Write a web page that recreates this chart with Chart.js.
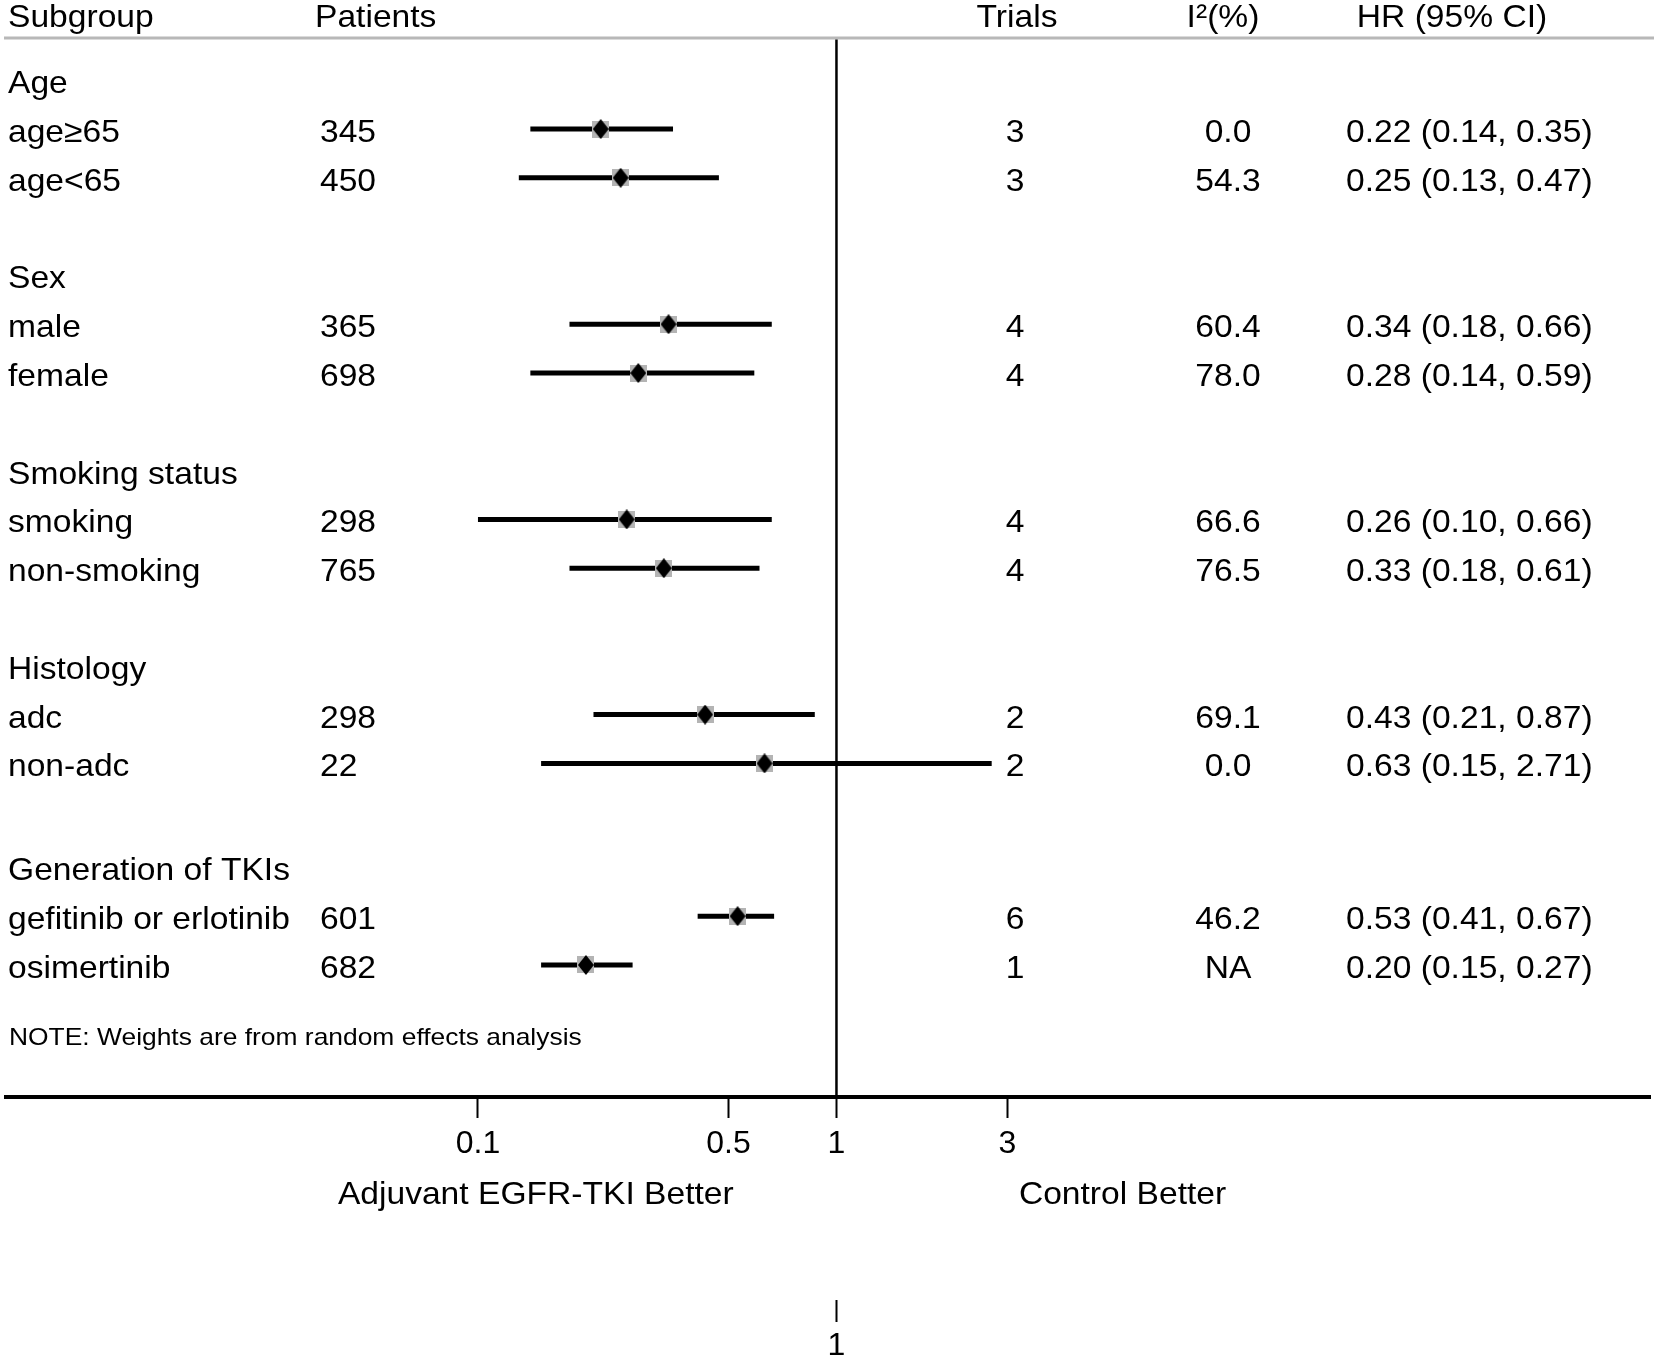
<!DOCTYPE html>
<html>
<head>
<meta charset="utf-8">
<script src="https://cdn.jsdelivr.net/npm/chart.js@4.4.1/dist/chart.umd.min.js"></script>
<style>
html,body{margin:0;padding:0;background:#fff;}
#wrap{width:1654px;height:1361px;}
</style>
</head>
<body>
<div id="wrap"><canvas id="c" width="1654" height="1361"></canvas></div>
<script>
// ---- data ----
const groupLabels = ['Age', 'Sex', 'Smoking status', 'Histology', 'Generation of TKIs'];
const groupRows   = [0, 4, 8, 12, 16.13];
const subgroups   = ['age≥65', 'age<65', 'male', 'female', 'smoking', 'non-smoking', 'adc', 'non-adc', 'gefitinib or erlotinib', 'osimertinib'];
const rows        = [1, 2, 5, 6, 9, 10, 13, 14, 17.13, 18.13];
const patients    = [345, 450, 365, 698, 298, 765, 298, 22, 601, 682];
const trials      = [3, 3, 4, 4, 4, 4, 2, 2, 6, 1];
const i2          = ['0.0', '54.3', '60.4', '78.0', '66.6', '76.5', '69.1', '0.0', '46.2', 'NA'];
const hr          = [0.22, 0.25, 0.34, 0.28, 0.26, 0.33, 0.43, 0.63, 0.53, 0.20];
const ciLow       = [0.14, 0.13, 0.18, 0.14, 0.10, 0.18, 0.21, 0.15, 0.41, 0.15];
const ciHigh      = [0.35, 0.47, 0.66, 0.59, 0.66, 0.61, 0.87, 2.71, 0.67, 0.27];
const xTicks      = [0.1, 0.5, 1, 3];
const x2Ticks     = [1];
const headers     = ['Subgroup', 'Patients', 'Trials', 'I²(%)', 'HR (95% CI)'];
const noteText    = 'NOTE: Weights are from random effects analysis';
const noteRow     = 19.61;
const leftTitle   = 'Adjuvant EGFR-TKI Better';
const rightTitle  = 'Control Better';
const leftTitleAt = 0.145;
const rightTitleAt = 6.28;

// ---- marker glyphs (drawn by Chart.js as point styles) ----
function makeDiamond(w, h, color) {
  const c = document.createElement('canvas');
  c.width = w; c.height = h;
  const g = c.getContext('2d');
  g.fillStyle = color;
  g.beginPath();
  g.moveTo(w / 2, 0); g.lineTo(w, h / 2); g.lineTo(w / 2, h); g.lineTo(0, h / 2);
  g.closePath(); g.fill();
  return c;
}
function makeBox(s, color) {
  const c = document.createElement('canvas');
  c.width = s; c.height = s;
  const g = c.getContext('2d');
  g.fillStyle = color;
  g.fillRect(0, 0, s, s);
  return c;
}
const diamondImg = makeDiamond(16, 20, '#000');
const boxImg = makeBox(17, '#b4b4b4');

// ---- datasets ----
const datasets = [];
datasets.push({
  type: 'scatter', label: 'HR', order: 0,
  data: hr.map((v, i) => ({x: v, y: rows[i]})),
  pointStyle: diamondImg, pointRadius: 1, pointHoverRadius: 1, pointBorderWidth: 0
});
datasets.push({
  type: 'scatter', label: 'weight', order: 1,
  data: hr.map((v, i) => ({x: v, y: rows[i]})),
  pointStyle: boxImg, pointRadius: 1, pointHoverRadius: 1, pointBorderWidth: 0
});
ciLow.forEach((lo, i) => {
  datasets.push({
    type: 'line', label: 'ci' + i, order: 2,
    data: [{x: lo, y: rows[i]}, {x: ciHigh[i], y: rows[i]}],
    borderColor: '#000', borderWidth: 5, pointRadius: 0, pointHoverRadius: 0,
    borderCapStyle: 'butt', fill: false, tension: 0
  });
});

const FONT = '"Liberation Sans", Arial, Helvetica, sans-serif';
function txt(ctx, s, x, y, size, align, sx) {
  ctx.save();
  ctx.font = size + 'px ' + FONT;
  ctx.fillStyle = '#000';
  ctx.textBaseline = 'alphabetic';
  ctx.textAlign = align;
  ctx.translate(x, y);
  ctx.scale(sx, 1);
  ctx.fillText(s, 0, 0);
  ctx.restore();
}

const forestPlugin = {
  id: 'forest',
  beforeDatasetsDraw(chart) {
    const {ctx, chartArea, scales} = chart;
    const xs = scales.x;
    ctx.save();
    // header rule
    ctx.strokeStyle = '#b8b8b8';
    ctx.lineWidth = 3;
    ctx.beginPath();
    ctx.moveTo(4, chartArea.top);
    ctx.lineTo(chart.width, chartArea.top);
    ctx.stroke();
    // null line
    const x1 = xs.getPixelForValue(1);
    ctx.strokeStyle = '#000';
    ctx.lineWidth = 2.5;
    ctx.beginPath();
    ctx.moveTo(x1, chartArea.top + 1.5);
    ctx.lineTo(x1, chartArea.bottom);
    ctx.stroke();
    ctx.restore();
  },
  afterDraw(chart) {
    const {ctx, chartArea, scales} = chart;
    const ys = scales.y, xs = scales.x;
    const S = 32, SX = 1.05, OFF = 13;
    // headers
    const hy = chartArea.top - 11;
    txt(ctx, headers[0], 8, hy, S, 'left', SX);
    txt(ctx, headers[1], 315, hy, S, 'left', SX);
    txt(ctx, headers[2], 1017, hy, S, 'center', SX);
    txt(ctx, headers[3], 1223, hy, S, 'center', SX);
    txt(ctx, headers[4], 1452, hy, S, 'center', SX);
    // group labels
    groupLabels.forEach((g, i) => {
      txt(ctx, g, 8, ys.getPixelForValue(groupRows[i]) + OFF, S, 'left', SX);
    });
    // rows
    subgroups.forEach((s, i) => {
      const y = ys.getPixelForValue(rows[i]) + OFF;
      txt(ctx, s, 8, y, S, 'left', SX);
      txt(ctx, String(patients[i]), 320, y, S, 'left', SX);
      txt(ctx, String(trials[i]), 1015, y, S, 'center', SX);
      txt(ctx, i2[i], 1228, y, S, 'center', SX);
      txt(ctx, hr[i].toFixed(2) + ' (' + ciLow[i].toFixed(2) + ', ' + ciHigh[i].toFixed(2) + ')', 1346, y, S, 'left', SX);
    });
    // note
    txt(ctx, noteText, 9, ys.getPixelForValue(noteRow) + 8, 24, 'left', 1.1);
    // favours titles
    const ty = chartArea.bottom + 107;
    txt(ctx, leftTitle, xs.getPixelForValue(leftTitleAt), ty, S, 'center', SX);
    txt(ctx, rightTitle, xs.getPixelForValue(rightTitleAt), ty, S, 'center', SX);
  }
};

const XMIN = 0.004825, XMAX = 185.9;

new Chart(document.getElementById('c'), {
  data: {datasets},
  options: {
    responsive: false,
    animation: false,
    devicePixelRatio: 1,
    layout: {padding: {top: 38, left: 6, right: 4, bottom: 0}},
    plugins: {legend: {display: false}, tooltip: {enabled: false}},
    scales: {
      x: {
        type: 'logarithmic', position: 'bottom', min: XMIN, max: XMAX, weight: 0,
        afterBuildTicks: s => { s.ticks = xTicks.map(v => ({value: v})); },
        afterFit: s => { s.height = 203; },
        ticks: {
          autoSkip: false, maxRotation: 0, padding: 7,
          color: '#000', font: {family: FONT, size: 32},
          callback: v => String(v)
        },
        grid: {drawOnChartArea: false, drawTicks: true, tickLength: 21, tickWidth: 2, tickColor: '#000'},
        border: {display: true, color: '#000', width: 4}
      },
      x2: {
        type: 'logarithmic', position: 'bottom', min: XMIN, max: XMAX, weight: 1,
        afterBuildTicks: s => { s.ticks = x2Ticks.map(v => ({value: v})); },
        afterFit: s => { s.height = 61; },
        ticks: {
          autoSkip: false, maxRotation: 0, padding: 5,
          color: '#000', font: {family: FONT, size: 32},
          callback: v => String(v)
        },
        grid: {drawOnChartArea: false, drawTicks: true, tickLength: 22, tickWidth: 2, tickColor: '#000'},
        border: {display: false}
      },
      y: {
        type: 'linear', min: -0.865, max: 20.836, reverse: true, display: false
      }
    }
  },
  plugins: [forestPlugin]
});
</script>
</body>
</html>
